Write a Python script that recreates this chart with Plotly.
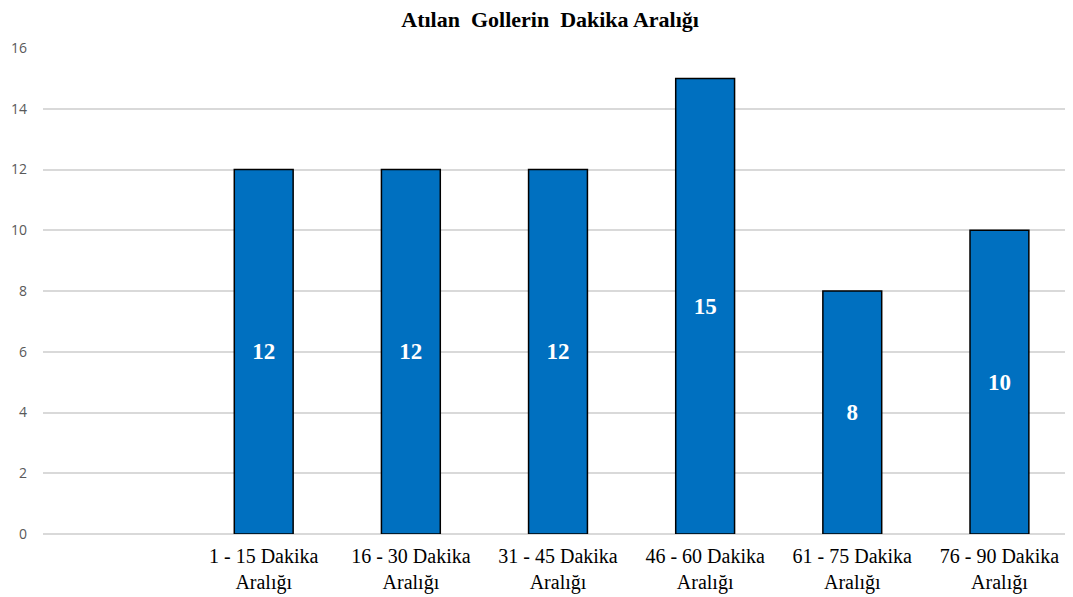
import plotly.graph_objects as go

categories = ["1 - 15 Dakika<br>Aralığı", "16 - 30 Dakika<br>Aralığı", "31 - 45 Dakika<br>Aralığı",
              "46 - 60 Dakika<br>Aralığı", "61 - 75 Dakika<br>Aralığı", "76 - 90 Dakika<br>Aralığı"]
values = [12, 12, 12, 15, 8, 10]
positions = [1, 2, 3, 4, 5, 6]
y_ticks = [0, 2, 4, 6, 8, 10, 12, 14, 16]

fig = go.Figure()
fig.add_trace(go.Bar(
    x=positions, y=values,
    marker=dict(color="#0070C0", line=dict(color="#000000", width=1.5)),
    width=0.4,
    text=[str(v) for v in values],
    textposition="inside", insidetextanchor="middle",
    textfont=dict(family="Liberation Serif", size=23, color="white", weight="bold"),
))

fig.update_layout(
    width=1065, height=589,
    paper_bgcolor="white", plot_bgcolor="white",
    margin=dict(l=35, r=0, t=40, b=63),
    title=dict(text="<b>Atılan  Gollerin  Dakika Aralığı</b>", x=0.509, xanchor="center",
               y=0.98, yanchor="middle",
               font=dict(family="Liberation Serif", size=22, color="black")),
    showlegend=False,
    bargap=0.6,
)
fig.update_xaxes(range=[-0.5, 6.5], tickvals=positions, ticktext=categories,
                 showgrid=False, zeroline=False, showline=False, ticks="", automargin=False,
                 ticklabelstandoff=8,
                 tickfont=dict(family="Liberation Serif", size=20, color="black"))
fig.update_yaxes(range=[0, 16], tickvals=y_ticks, showgrid=True, gridcolor="#D9D9D9", gridwidth=1.5,
                 zeroline=True, zerolinecolor="#D9D9D9", zerolinewidth=1.5, showline=False,
                 ticks="", ticklabelstandoff=15, automargin=False,
                 tickfont=dict(family="Open Sans", size=14, color="#595959"))

fig.write_html("out.html")
